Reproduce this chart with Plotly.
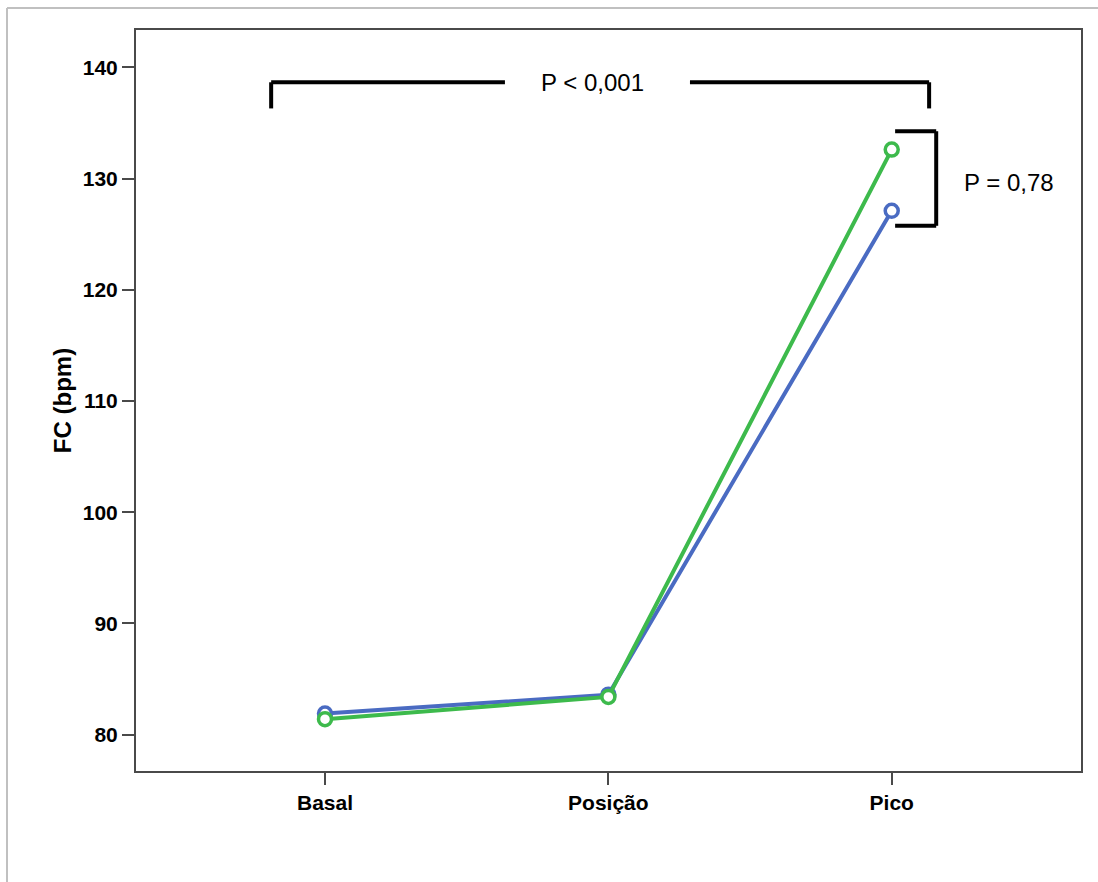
import plotly.graph_objects as go

categories = ["Basal", "Posição", "Pico"]
blue_values = [81.9, 83.6, 127.1]
green_values = [81.4, 83.4, 132.6]
y_tickvals = [80, 90, 100, 110, 120, 130, 140]

BLUE = "#4a6bc2"
GREEN = "#3dba4c"
AXIS = "#4a4a4a"

W, H = 1098, 882
L, R, T, B = 136, 17, 30, 111
pw, ph = W - L - R, H - T - B

def px_x(p):
    return (p - L) / pw

def px_y(p):
    return 1 - (p - T) / ph

fig = go.Figure()
xs = list(range(len(categories)))
for vals, col in [(blue_values, BLUE), (green_values, GREEN)]:
    fig.add_trace(go.Scatter(
        x=xs, y=vals, mode="lines+markers",
        line=dict(color=col, width=4),
        marker=dict(symbol="circle", size=13, color="white",
                    line=dict(color=col, width=3.5)),
        showlegend=False, hoverinfo="skip"))

shapes = []
# outer grey frame (top and left edges of the image)
shapes.append(dict(type="line", xref="paper", yref="paper",
                   x0=px_x(7), x1=px_x(1098), y0=px_y(8), y1=px_y(8),
                   line=dict(color="#c0c0c0", width=2)))
shapes.append(dict(type="line", xref="paper", yref="paper",
                   x0=px_x(7), x1=px_x(7), y0=px_y(8), y1=px_y(882),
                   line=dict(color="#c0c0c0", width=2)))

blk = dict(color="black", width=4)
# top bracket (Basal vs Pico)
y_top, y_low = 138.65, 136.3
shapes += [
    dict(type="line", xref="x", yref="y", x0=-0.19, x1=0.635, y0=y_top, y1=y_top, line=blk),
    dict(type="line", xref="x", yref="y", x0=1.288, x1=2.132, y0=y_top, y1=y_top, line=blk),
    dict(type="line", xref="x", yref="y", x0=-0.19, x1=-0.19, y0=y_top, y1=y_low, line=blk),
    dict(type="line", xref="x", yref="y", x0=2.132, x1=2.132, y0=y_top, y1=y_low, line=blk),
]
# right bracket (groups at Pico)
shapes += [
    dict(type="line", xref="x", yref="y", x0=2.012, x1=2.157, y0=134.25, y1=134.25, line=blk),
    dict(type="line", xref="x", yref="y", x0=2.012, x1=2.157, y0=125.75, y1=125.75, line=blk),
    dict(type="line", xref="x", yref="y", x0=2.157, x1=2.157, y0=134.25, y1=125.75, line=blk),
]

annotations = [
    dict(x=0.945, y=y_top, xref="x", yref="y", text="P < 0,001", showarrow=False,
         font=dict(family="Liberation Sans, Arial", size=24, color="black")),
    dict(x=2.413, y=129.6, xref="x", yref="y", text="P = 0,78", showarrow=False,
         font=dict(family="Liberation Sans, Arial", size=24, color="black")),
]

fig.update_layout(
    width=W, height=H,
    margin=dict(l=L, r=R, t=T, b=B),
    paper_bgcolor="white", plot_bgcolor="white",
    shapes=shapes, annotations=annotations,
    font=dict(family="Liberation Sans, Arial", color="black"),
    xaxis=dict(
        range=[-0.667, 2.668], tickvals=xs, ticktext=categories,
        showgrid=False, zeroline=False,
        showline=True, linecolor=AXIS, linewidth=2, mirror=True,
        ticks="outside", ticklen=12, tickwidth=2, tickcolor=AXIS,
        tickfont=dict(family="Liberation Sans, Arial", size=21, color="black", weight="bold"),
    ),
    yaxis=dict(
        range=[76.74, 143.35], tickvals=y_tickvals,
        showgrid=False, zeroline=False,
        showline=True, linecolor=AXIS, linewidth=2, mirror=True,
        ticks="outside", ticklen=12, tickwidth=2, tickcolor=AXIS,
        tickfont=dict(family="Liberation Sans, Arial", size=21, color="black", weight="bold"),
        title=dict(text="FC (bpm)", standoff=4,
                   font=dict(family="Liberation Sans, Arial", size=24, color="black", weight="bold")),
    ),
)

fig.write_html("out.html")
